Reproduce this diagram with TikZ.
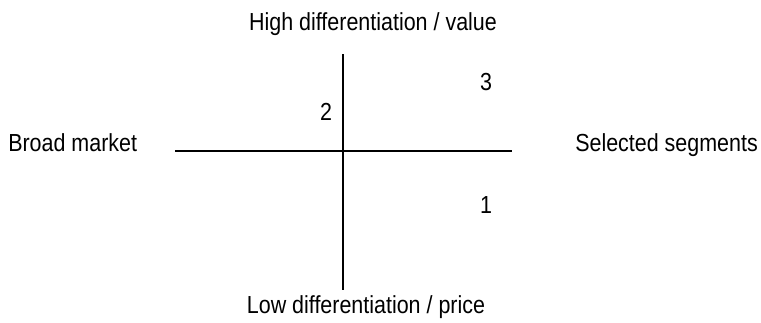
\documentclass[tikz,border=0pt]{standalone}
\usepackage{fontspec}
\setmainfont{Liberation Sans}[FakeStretch=0.87]
\usetikzlibrary{positioning}
\definecolor{ink}{HTML}{000000}
\tikzset{
  axislabel/.style={
    inner sep=0pt, anchor=base, text=ink,
    font=\fontsize{18.5pt}{22pt}\selectfont
  },
  quadnum/.style={axislabel},
  axisline/.style={draw=ink, line width=1.5pt}
}
\begin{document}
\begin{tikzpicture}[x=0.75pt, y=-0.75pt]
  \useasboundingbox (0,0) rectangle (761,322);
  \coordinate (left) at (175,151);
  \coordinate (right) at (512,151);
  \coordinate (top) at (343,54);
  \coordinate (bottom) at (343,290);
  \draw[axisline] (left) -- (right);
  \draw[axisline] (top) -- (bottom);
  \node[axislabel] (high) at (373,30) {High differentiation / value};
  \node[axislabel] (low) at (366,313) {Low differentiation / price};
  \node[axislabel, anchor=base west] (broad) at (8,151) {Broad market};
  \node[axislabel, anchor=base west] (selected) at (575,151) {Selected segments};
  \node[quadnum] (q2) at (326,120) {2};
  \node[quadnum] (q3) at (486,90) {3};
  \node[quadnum] (q1) at (486,213) {1};
\end{tikzpicture}
\end{document}
